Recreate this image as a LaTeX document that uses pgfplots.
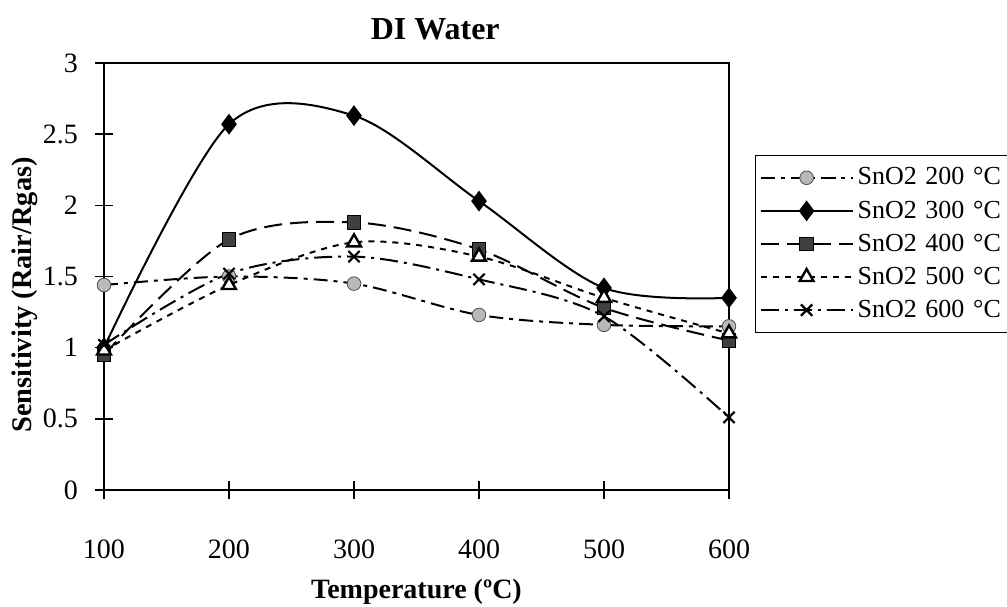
\documentclass[border=0pt]{standalone}
\usepackage{fontspec}
\setmainfont{Liberation Serif}
\usepackage{pgfplots}
\pgfplotsset{compat=1.18}

% Sensitivity of SnO2 films (annealed at 200-600 C) to DI water vapour
\pgfplotstableread{
T    s200 s300 s400 s500 s600
100  1.44 1.00 0.95 0.98 1.02
200  1.50 2.57 1.76 1.44 1.52
300  1.45 2.63 1.88 1.74 1.64
400  1.23 2.03 1.69 1.64 1.48
500  1.16 1.42 1.28 1.35 1.22
600  1.15 1.35 1.05 1.10 0.51
}\datatable

\begin{document}
\begin{tikzpicture}
\useasboundingbox (-52pt,-58pt) rectangle (451.5pt,245pt);
\begin{axis}[
  at={(0,0)}, anchor=south west,
  scale only axis,
  width=312.5pt, height=213.5pt,
  xmin=100, xmax=600, ymin=0, ymax=3,
  xtick={100,200,...,600},
  ytick={0,0.5,...,3},
  yticklabels={0,0.5,1,1.5,2,2.5,3},
  axis line style={line width=1.2pt},
  tick style={line width=0.8pt, black},
  tick align=center,
  major tick length=9pt,
  xtick pos=bottom, ytick pos=left,
  /pgf/number format/assume math mode=true,
  ticklabel style={font=\fontsize{14}{16}\selectfont},
  xticklabel style={yshift=-17pt},
  yticklabel style={xshift=-5pt},
  title={\textbf{DI Water}},
  title style={font=\fontsize{16}{18}\selectfont, at={(axis description cs:0.53,1.05)}, anchor=center},
  xlabel={\textbf{Temperature (ºC)}},
  ylabel={\textbf{Sensitivity (Rair/Rgas)}},
  label style={font=\fontsize{14}{16}\selectfont},
  xlabel style={at={(axis description cs:0.5,-0.239)}, anchor=center},
  ylabel style={font=\fontsize{14.2}{16}\selectfont, at={(axis description cs:-0.127,0.457)}, anchor=center, rotate=0},
  every axis plot/.append style={line width=1pt, black, smooth, tension=0.52},
  legend style={
    at={(axis description cs:1.0416,0.7845)}, anchor=north west,
    draw=black, line width=0.6pt,
    font=\fontsize{13}{15}\selectfont,
    row sep=2.4pt, inner xsep=2pt, inner ysep=4pt,
    cells={anchor=west}, text width=75pt,
  },
  legend image code/.code={
    \draw[#1, mark repeat=2, mark phase=2] plot coordinates {(0pt,0pt) (23pt,0pt) (46pt,0pt)};
  },
]
\addplot[dash pattern=on 7pt off 3pt on 2pt off 3pt,
  mark=*, mark size=3.4pt, mark options={solid, fill=gray!55, draw=gray!60!black, line width=0.4pt}]
  table[x=T, y=s200] {\datatable};
\addlegendentry{SnO2 200 °C}
\addplot[solid,
  mark=diamond*, mark size=4.4pt, mark options={solid, fill=black}]
  table[x=T, y=s300] {\datatable};
\addlegendentry{SnO2 300 °C}
\addplot[dash pattern=on 9pt off 4pt,
  mark=square*, mark size=3.4pt, mark options={solid, fill=black!75, draw=black, line width=0.6pt}]
  table[x=T, y=s400] {\datatable};
\addlegendentry{SnO2 400 °C}
\addplot[dash pattern=on 3pt off 3pt,
  mark=triangle*, mark size=4pt, mark options={solid, fill=white, draw=black, line width=1.2pt}]
  table[x=T, y=s500] {\datatable};
\addlegendentry{SnO2 500 °C}
\addplot[dash pattern=on 9pt off 3pt on 1.5pt off 3pt,
  mark=x, mark size=4pt, mark options={solid, line width=1.1pt}]
  table[x=T, y=s600] {\datatable};
\addlegendentry{SnO2 600 °C}
\end{axis}
\end{tikzpicture}
\end{document}
